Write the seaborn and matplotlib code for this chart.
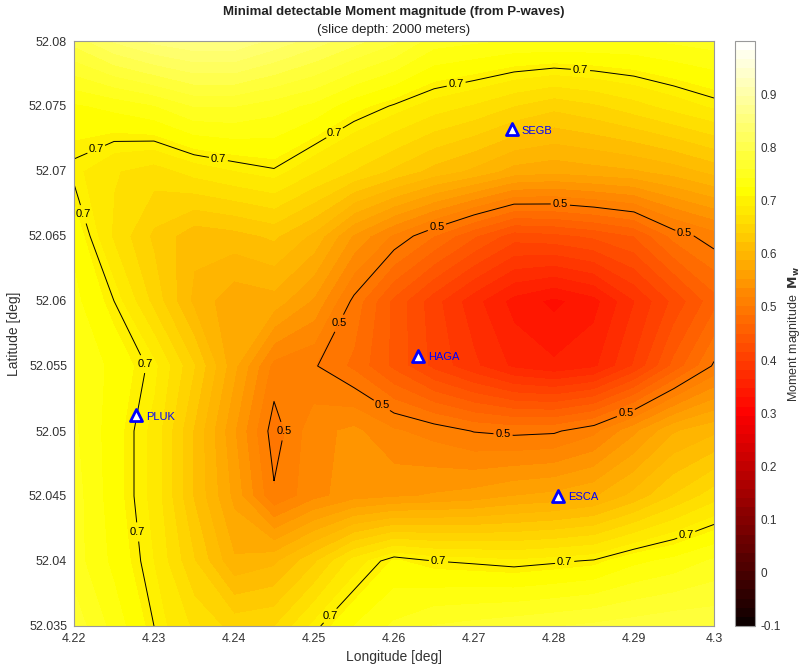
import matplotlib
matplotlib.use("Agg")
import matplotlib.pyplot as plt
import numpy as np
import pandas as pd
import seaborn as sns

# grid nodes of the depth slice
lon = [4.22, 4.225, 4.23, 4.235, 4.24, 4.245, 4.25, 4.255, 4.26,
       4.265, 4.27, 4.275, 4.28, 4.285, 4.29, 4.295, 4.30]
lat = [52.035, 52.04, 52.045, 52.05, 52.055, 52.06, 52.065, 52.07, 52.075, 52.08]

# minimal detectable Mw, one row per latitude
mw_52035 = [0.77, 0.735, 0.70, 0.67, 0.65, 0.655, 0.695, 0.725, 0.745, 0.76, 0.765, 0.77, 0.775, 0.78, 0.785, 0.79, 0.79]
mw_52040 = [0.75, 0.72, 0.69, 0.64, 0.59, 0.60, 0.635, 0.68, 0.71, 0.70, 0.697, 0.693, 0.697, 0.702, 0.72, 0.73, 0.745]
mw_52045 = [0.75, 0.715, 0.685, 0.62, 0.565, 0.503, 0.53, 0.545, 0.55, 0.555, 0.56, 0.57, 0.575, 0.585, 0.61, 0.64, 0.665]
mw_52050 = [0.745, 0.715, 0.685, 0.62, 0.555, 0.49, 0.53, 0.54, 0.521, 0.511, 0.499, 0.495, 0.497, 0.513, 0.548, 0.585, 0.60]
mw_52055 = [0.74, 0.72, 0.695, 0.64, 0.575, 0.512, 0.502, 0.48, 0.445, 0.41, 0.385, 0.36, 0.35, 0.36, 0.40, 0.455, 0.503]
mw_52060 = [0.73, 0.70, 0.65, 0.60, 0.575, 0.58, 0.55, 0.495, 0.445, 0.405, 0.37, 0.34, 0.325, 0.34, 0.38, 0.42, 0.46]
mw_52065 = [0.72, 0.67, 0.635, 0.61, 0.615, 0.625, 0.60, 0.55, 0.515, 0.484, 0.452, 0.423, 0.427, 0.436, 0.45, 0.49, 0.51]
mw_52070 = [0.695, 0.675, 0.665, 0.68, 0.69, 0.698, 0.675, 0.655, 0.635, 0.615, 0.60, 0.58, 0.575, 0.58, 0.585, 0.595, 0.61]
mw_52075 = [0.722, 0.73, 0.741, 0.76, 0.76, 0.75, 0.7375, 0.714, 0.698, 0.682, 0.671, 0.656, 0.644, 0.653, 0.666, 0.68, 0.693]
mw_52080 = [0.80, 0.83, 0.85, 0.86, 0.86, 0.84, 0.82, 0.80, 0.78, 0.75, 0.745, 0.74, 0.74, 0.74, 0.74, 0.745, 0.75]

# seismic stations
station_names = ["SEGB", "HAGA", "PLUK", "ESCA"]
station_lon = [4.2747, 4.2630, 4.2278, 4.2805]
station_lat = [52.0732, 52.0558, 52.0512, 52.0450]

# where the contour labels sit (lon, lat)
label_spots = [(4.2229, 52.0715), (4.2381, 52.0711), (4.2526, 52.0729), (4.2678, 52.0766),
               (4.2833, 52.0777), (4.2208, 52.0666), (4.2283, 52.0550), (4.2274, 52.0422),
               (4.2520, 52.0358), (4.2655, 52.0395), (4.2814, 52.0395), (4.2966, 52.0419),
               (4.2515, 52.0588), (4.2654, 52.0656), (4.2808, 52.0675), (4.2963, 52.0652),
               (4.2583, 52.0518), (4.2736, 52.0495), (4.2891, 52.0512), (4.2461, 52.0500)]

mw = np.array([mw_52035, mw_52040, mw_52045, mw_52050, mw_52055,
               mw_52060, mw_52065, mw_52070, mw_52075, mw_52080])
stations = pd.DataFrame({"name": station_names, "lon": station_lon, "lat": station_lat})

sns.set_style("white")
plt.rcParams["font.family"] = ["Liberation Sans", "DejaVu Sans"]

fig = plt.figure(figsize=(8.02, 6.67), dpi=100)
ax = fig.add_axes([74/802, 41/667, 640/802, 585/667])
cax = fig.add_axes([735/802, 41/667, 20/802, 585/667])

levels = np.linspace(-0.1, 1.0, 65)
cf = ax.contourf(lon, lat, mw, levels=levels, cmap="hot", vmin=-0.1, vmax=1.0)
cs = ax.contour(lon, lat, mw, levels=[0.5, 0.7], colors="k", linewidths=0.7)
labels = ax.clabel(cs, fmt="%.1f", fontsize=8, inline=True, inline_spacing=2, manual=label_spots)
for t in labels:
    t.set_rotation(0)

sns.scatterplot(data=stations, x="lon", y="lat", marker="^", s=75,
                facecolor="white", edgecolor="blue", linewidth=2, ax=ax, zorder=5)
for _, st in stations.iterrows():
    ax.annotate(st["name"], (st["lon"], st["lat"]), xytext=(7, -1), textcoords="offset points",
                color="blue", fontsize=8, va="center", ha="left", zorder=6)

ax.set_xlim(4.22, 4.30)
ax.set_ylim(52.035, 52.08)
ax.set_xticks([4.22, 4.23, 4.24, 4.25, 4.26, 4.27, 4.28, 4.29, 4.30])
ax.set_xticklabels(["4.22", "4.23", "4.24", "4.25", "4.26", "4.27", "4.28", "4.29", "4.3"])
ax.set_yticks([52.035, 52.04, 52.045, 52.05, 52.055, 52.06, 52.065, 52.07, 52.075, 52.08])
ax.set_yticklabels(["52.035", "52.04", "52.045", "52.05", "52.055", "52.06", "52.065", "52.07", "52.075", "52.08"])
ax.tick_params(direction="in", length=4, color="#777777", labelsize=9, labelcolor="#333333", pad=5)
for sp in ax.spines.values():
    sp.set_color("#999999")
    sp.set_linewidth(0.8)
ax.set_xlabel("Longitude [deg]", fontsize=10, color="#333333", labelpad=4)
ax.set_ylabel("Latitude [deg]", fontsize=10, color="#333333", labelpad=6)

fig.text(394/802, 1 - 12/667, "Minimal detectable Moment magnitude (from P-waves)",
         ha="center", va="center", fontsize=9.5, fontweight="bold", color="#222222")
fig.text(394/802, 1 - 30/667, "(slice depth: 2000 meters)",
         ha="center", va="center", fontsize=9.5, color="#222222")

cb = fig.colorbar(cf, cax=cax, ticks=[-0.1, 0, 0.1, 0.2, 0.3, 0.4, 0.5, 0.6, 0.7, 0.8, 0.9])
cb.ax.set_yticklabels(["-0.1", "0", "0.1", "0.2", "0.3", "0.4", "0.5", "0.6", "0.7", "0.8", "0.9"])
cb.ax.tick_params(direction="in", length=4, color="#555555", labelsize=8.5, labelcolor="#333333", pad=4)
cb.outline.set_edgecolor("#999999")
cb.outline.set_linewidth(0.8)
cb.set_label("Moment magnitude  $\\mathbf{M_w}$", fontsize=9, color="#333333")
cb.ax.yaxis.set_label_coords(2.55, 0.5)

fig.savefig("out.png", dpi=100)
